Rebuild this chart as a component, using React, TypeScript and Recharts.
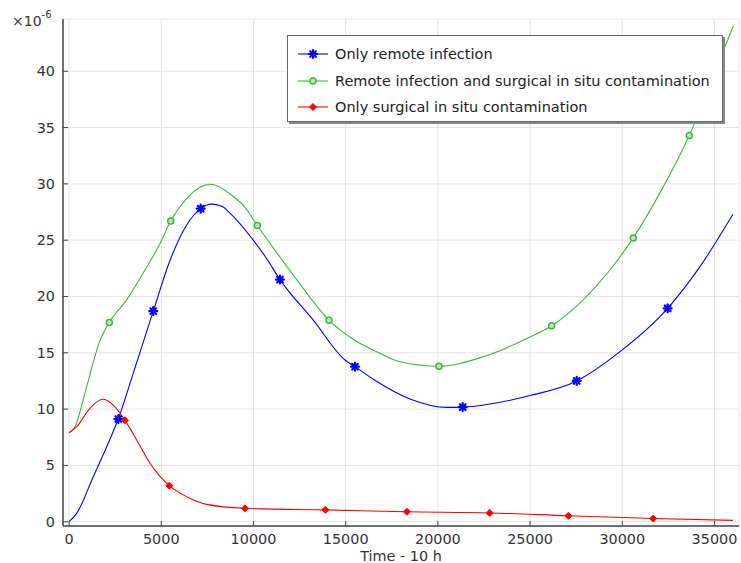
import { LineChart, Line, XAxis, YAxis, CartesianGrid } from "recharts";

// time (x 10 h) and value (x 1e-6); m marks the points COMSOL drew a marker on
const remoteOnly = [
    { t: 0, v: 0 }, { t: 412, v: 0.74 }, { t: 1312, v: 4.0 }, { t: 2039, v: 6.66 },
    { t: 2668, v: 9.12, m: true }, { t: 3482, v: 13.2 }, { t: 4566, v: 18.7, m: true },
    { t: 5472, v: 23.2 }, { t: 6377, v: 26.35 }, { t: 7137, v: 27.8, m: true },
    { t: 7700, v: 28.2 }, { t: 8300, v: 28.0 }, { t: 8726, v: 27.4 }, { t: 9989, v: 25.0 },
    { t: 10700, v: 23.4 }, { t: 11437, v: 21.5, m: true }, { t: 13243, v: 17.9 },
    { t: 14962, v: 14.36 }, { t: 15504, v: 13.77, m: true }, { t: 16497, v: 12.65 },
    { t: 18487, v: 10.9 }, { t: 20500, v: 10.15 }, { t: 21345, v: 10.17, m: true },
    { t: 23000, v: 10.5 }, { t: 24995, v: 11.2 }, { t: 27527, v: 12.5, m: true },
    { t: 29875, v: 15.1 }, { t: 32462, v: 18.95, m: true }, { t: 34214, v: 22.65 },
    { t: 36000, v: 27.3 },
];

const remoteAndSurgical = [
    { t: 0, v: 7.9 }, { t: 320, v: 8.44 }, { t: 954, v: 12.0 }, { t: 1676, v: 16.1 },
    { t: 2180, v: 17.7, m: true }, { t: 3123, v: 19.7 }, { t: 4026, v: 22.1 },
    { t: 4930, v: 24.7 }, { t: 5510, v: 26.7, m: true }, { t: 6377, v: 28.7 },
    { t: 7641, v: 29.96 }, { t: 8300, v: 29.6 }, { t: 8726, v: 29.1 }, { t: 9500, v: 28.0 },
    { t: 10206, v: 26.3, m: true }, { t: 11258, v: 23.9 }, { t: 12343, v: 21.5 },
    { t: 14094, v: 17.9, m: true }, { t: 15400, v: 16.2 }, { t: 16860, v: 14.96 },
    { t: 17945, v: 14.2 }, { t: 20060, v: 13.8, m: true }, { t: 22462, v: 14.65 },
    { t: 24995, v: 16.4 }, { t: 26171, v: 17.4, m: true }, { t: 27885, v: 19.7 },
    { t: 29333, v: 22.35 }, { t: 30596, v: 25.2, m: true }, { t: 32044, v: 29.2 },
    { t: 33633, v: 34.3, m: true }, { t: 35570, v: 42.2 }, { t: 36020, v: 44.0 },
];

const surgicalOnly = [
    { t: 0, v: 7.9 }, { t: 412, v: 8.44 }, { t: 1133, v: 10.07 }, { t: 1822, v: 10.87 },
    { t: 2397, v: 10.36 }, { t: 3031, v: 9.0, m: true }, { t: 3666, v: 7.26 },
    { t: 4387, v: 5.19 }, { t: 5434, v: 3.2, m: true }, { t: 6377, v: 2.22 },
    { t: 7462, v: 1.54 }, { t: 9539, v: 1.19, m: true }, { t: 13892, v: 1.05, m: true },
    { t: 18324, v: 0.88, m: true }, { t: 22811, v: 0.78, m: true },
    { t: 27081, v: 0.53, m: true }, { t: 31676, v: 0.28, m: true }, { t: 36000, v: 0.12 },
];

const xTicks = [0, 5000, 10000, 15000, 20000, 25000, 30000, 35000];
const yTicks = [0, 5, 10, 15, 20, 25, 30, 35, 40];

const series = [
    { name: "Only remote infection", data: remoteOnly, color: "#0000ff", marker: "star" },
    { name: "Remote infection and surgical in situ contamination", data: remoteAndSurgical, color: "#3cb83c", marker: "circle" },
    { name: "Only surgical in situ contamination", data: surgicalOnly, color: "#ff0000", marker: "diamond" },
];

const FONT = "'DejaVu Sans', sans-serif";
const TXT = "#333";
const AXIS = "#444";

function Marker({ kind, cx, cy, color }: { kind: string; cx: number; cy: number; color: string }) {
    if (kind === "star") {
        const r = 4;
        return (
            <g stroke={color} strokeWidth={2.2} strokeLinecap="round">
                {[0, 45, 90, 135].map((a) => {
                    const dx = Math.cos((a * Math.PI) / 180) * r;
                    const dy = Math.sin((a * Math.PI) / 180) * r;
                    return <line key={a} x1={cx - dx} y1={cy - dy} x2={cx + dx} y2={cy + dy} />;
                })}
            </g>
        );
    }
    if (kind === "circle") {
        return <circle cx={cx} cy={cy} r={3} fill="#bfe8bf" stroke={color} strokeWidth={1.5} />;
    }
    const s = 3.5;
    return <polygon points={`${cx},${cy - s} ${cx + s},${cy} ${cx},${cy + s} ${cx - s},${cy}`} fill={color} stroke={color} strokeWidth={1} />;
}

const BottomTick = (p: any) => (
    <g>
        <line x1={p.x} x2={p.x} y1={p.y} y2={p.y - 5} stroke={AXIS} />
        <text x={p.x} y={p.y + 18} textAnchor="middle" fontSize={14.4} fontFamily={FONT} fill={TXT}>
            {p.payload.value}
        </text>
    </g>
);

const LeftTick = (p: any) => (
    <g>
        <line x1={p.x} x2={p.x + 5} y1={p.y} y2={p.y} stroke={AXIS} />
        <text x={p.x - 8} y={p.y + 5} textAnchor="end" fontSize={14.4} fontFamily={FONT} fill={TXT}>
            {p.payload.value}
        </text>
    </g>
);

const TopTick = (p: any) => <line x1={p.x} x2={p.x} y1={p.y} y2={p.y + 5} stroke={AXIS} />;
const RightTick = (p: any) => <line x1={p.x} x2={p.x - 5} y1={p.y} y2={p.y} stroke={AXIS} />;

export default function App() {
    const xDomain = [-330, 36330];
    const yDomain = [-0.38, 44.64];

    return (
        <div style={{ position: "absolute", left: 0, top: 0, width: 741, height: 563, background: "#fff" }}>
            <LineChart width={741} height={563} margin={{ top: 19, right: 2, bottom: 0, left: 0 }}>
                <CartesianGrid stroke="#e4e4e4" strokeWidth={1} />
                <XAxis
                    type="number"
                    dataKey="t"
                    domain={xDomain}
                    ticks={xTicks}
                    allowDataOverflow
                    height={37}
                    tickSize={0}
                    tickMargin={0}
                    tickLine={false}
                    tick={<BottomTick />}
                    stroke={AXIS}
                    strokeWidth={1.5}
                    label={{ value: "Time - 10 h", position: "insideBottom", offset: 2, fontSize: 14.4, fontFamily: FONT, fill: TXT }}
                />
                <XAxis
                    xAxisId="top"
                    orientation="top"
                    type="number"
                    dataKey="t"
                    domain={xDomain}
                    ticks={xTicks}
                    allowDataOverflow
                    height={0}
                    tickSize={0}
                    tickMargin={0}
                    tickLine={false}
                    tick={<TopTick />}
                    stroke={AXIS}
                    strokeWidth={1.5}
                />
                <YAxis
                    type="number"
                    domain={yDomain}
                    ticks={yTicks}
                    allowDataOverflow
                    width={63}
                    tickSize={0}
                    tickMargin={0}
                    tickLine={false}
                    tick={<LeftTick />}
                    stroke={AXIS}
                    strokeWidth={1.5}
                />
                <YAxis
                    yAxisId="right"
                    orientation="right"
                    type="number"
                    domain={yDomain}
                    ticks={yTicks}
                    allowDataOverflow
                    width={0}
                    tickSize={0}
                    tickMargin={0}
                    tickLine={false}
                    tick={<RightTick />}
                    stroke={AXIS}
                    strokeWidth={1.5}
                />
                {series.map((s) => (
                    <Line
                        key={s.name}
                        data={s.data}
                        dataKey="v"
                        name={s.name}
                        type="monotone"
                        stroke={s.color}
                        strokeWidth={1.1}
                        isAnimationActive={false}
                        activeDot={false}
                        dot={(p: any) =>
                            p.payload.m ? (
                                <Marker key={`${s.name}-${p.index}`} kind={s.marker} cx={p.cx} cy={p.cy} color={s.color} />
                            ) : (
                                <g key={`${s.name}-${p.index}`} />
                            )
                        }
                    />
                ))}
            </LineChart>

            <div style={{ position: "absolute", left: 12, top: 11, fontFamily: FONT, fontSize: 14, color: TXT }}>
                ×10<sup style={{ fontSize: 10, position: "relative", top: -2 }}>-6</sup>
            </div>

            <div
                style={{
                    position: "absolute",
                    left: 287,
                    top: 35,
                    width: 436,
                    height: 87,
                    boxSizing: "border-box",
                    background: "#fff",
                    border: "1px solid #666",
                    boxShadow: "2px 2px 0 #888",
                    fontFamily: FONT,
                    fontSize: 14.5,
                    color: "#222",
                    paddingTop: 5,
                }}
            >
                {series.map((s) => (
                    <div key={s.name} style={{ display: "flex", alignItems: "center", height: 26.5, paddingLeft: 9 }}>
                        <svg width={32} height={12} style={{ marginRight: 6 }}>
                            <line x1={1} x2={31} y1={6} y2={6} stroke={s.color} strokeWidth={1.1} />
                            <Marker kind={s.marker} cx={16} cy={6} color={s.color} />
                        </svg>
                        <span style={{ whiteSpace: "nowrap" }}>{s.name}</span>
                    </div>
                ))}
            </div>
        </div>
    );
}
